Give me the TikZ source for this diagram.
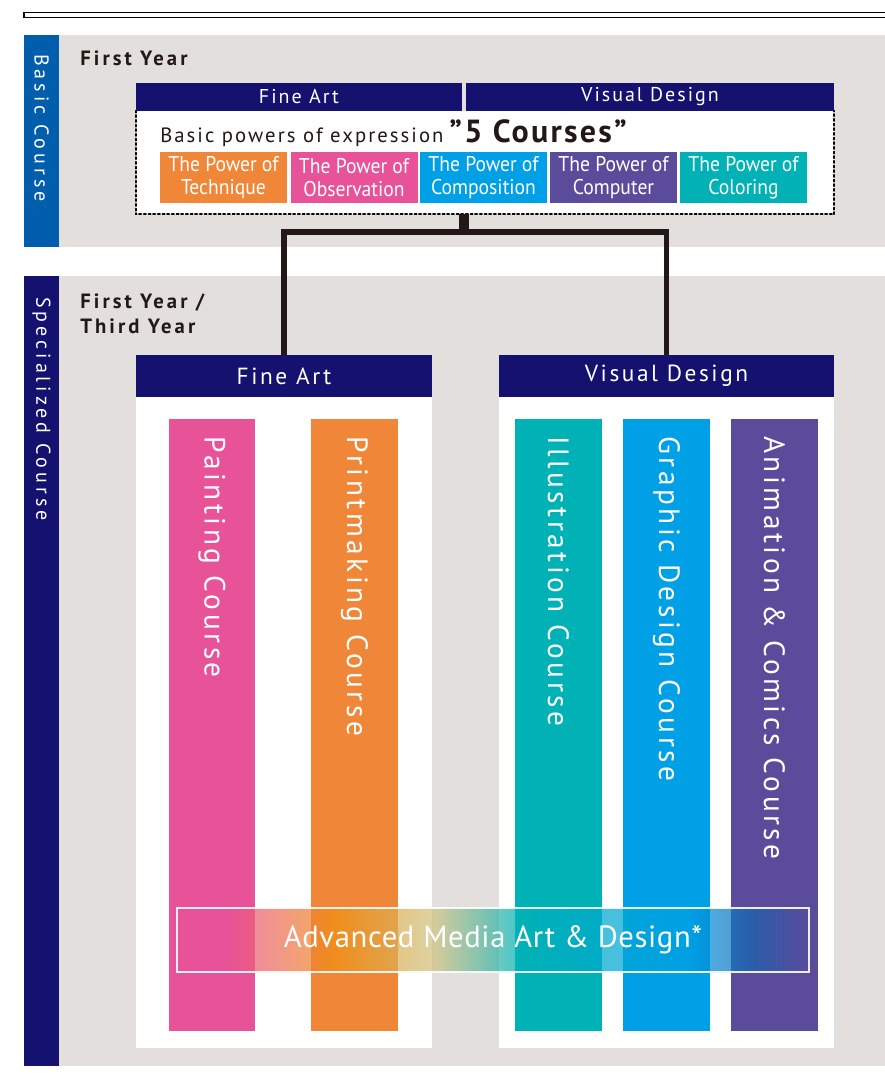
\documentclass[tikz,border=0pt]{standalone}
\usepackage{fontspec}
\setmainfont{PT Sans}
\usetikzlibrary{positioning}

\definecolor{navy}{RGB}{20,18,110}
\definecolor{basicblue}{RGB}{0,94,172}
\definecolor{bandgrey}{RGB}{226,223,220}
\definecolor{inkdark}{RGB}{35,24,21}
\definecolor{powerorange}{RGB}{240,134,55}
\definecolor{powerpink}{RGB}{232,82,152}
\definecolor{powercyan}{RGB}{0,160,230}
\definecolor{powerpurple}{RGB}{90,76,155}
\definecolor{powerteal}{RGB}{0,178,182}
\definecolor{bandorange}{RGB}{240,145,20}
\definecolor{bandkhaki}{RGB}{205,195,130}
\definecolor{bandblue}{RGB}{25,100,175}

\pgfdeclarehorizontalshading{mediaband}{100bp}{color(0bp)=(powerpink); color(25bp)=(powerpink); color(29bp)=(powerpink); color(37.5bp)=(bandorange); color(45.5bp)=(bandkhaki); color(52bp)=(powerteal); color(65.5bp)=(powercyan); color(70.5bp)=(bandblue); color(75bp)=(powerpurple); color(100bp)=(powerpurple)}

\tikzset{
  sidetext/.style={rotate=-90, anchor=west, inner sep=0pt, text=white, font=\fontsize{15}{17}\selectfont\addfontfeature{LetterSpace=20}},
  yeartext/.style={anchor=north west, inner sep=0pt, align=left, text=inkdark, font=\fontsize{15.5}{18.5}\selectfont\bfseries\addfontfeature{LetterSpace=15}},
  headbar/.style={fill=navy, inner sep=0pt, text=white, font=\fontsize{15}{18}\selectfont\addfontfeature{LetterSpace=10}},
  lowhead/.style={headbar, minimum height=31.5pt, font=\fontsize{17.5}{20}\selectfont\addfontfeature{LetterSpace=11}},
  powerbox/.style={minimum width=95.25pt, minimum height=38.25pt, inner sep=0pt, align=center, text=white, font=\fontsize{16}{17.5}\selectfont\addfontfeature{FakeStretch=0.92}},
  coursebar/.style={minimum width=65pt, minimum height=459pt, inner sep=0pt},
  coursetext/.style={rotate=-90, anchor=west, inner sep=0pt, text=white, font=\fontsize{22}{26}\selectfont\addfontfeature{LetterSpace=12}},
  panel/.style={fill=white, inner sep=0pt},
  link/.style={draw=inkdark, line width=3.9pt}
}

\begin{document}
\begin{tikzpicture}[x=0.75pt,y=0.75pt,yscale=-1,xscale=1]
	\useasboundingbox (0,0) rectangle (885,1079);
	\draw [line width=1.1pt] (24,12.5) rectangle (892,17.5);

	% basic course
	\fill [bandgrey] (24,35) rectangle (885,247);
	\fill [basicblue] (24,35) rectangle (59,247);
	\node [sidetext] (basiclabel) at (41.5,54) {Basic Course};
	\node [yeartext] (firstyear) at (80,51) {First Year};

	\node [panel, minimum width=523.5pt, minimum height=77.5pt] (basicbox) at (485,162.5) {};
	\draw [dotted, line width=1.5pt, line cap=round] (basicbox.north west) -- (basicbox.south west) -- (basicbox.south east) -- (basicbox.north east);
	\node [headbar, minimum width=244.5pt, minimum height=21pt] (faheadtop) at (299,96.5) {Fine Art};
	\node [headbar, minimum width=276pt, minimum height=21pt] (vdheadtop) at (650,96.5) {Visual Design};

	\node [anchor=base west, inner sep=0pt, text=inkdark, font=\fontsize{15.5}{18}\selectfont\addfontfeature{LetterSpace=10}] (expression) at (160,142) {Basic powers of expression};
	\node [right=4pt of expression.base east, anchor=base west, inner sep=0pt, text=inkdark, font=\fontsize{24}{28}\selectfont\bfseries\addfontfeature{LetterSpace=7}] (fivecourses) {”5 Courses”};

	\node [powerbox, fill=powerorange] (technique) at (223.5,177.5) {The Power of\\Technique};
	\node [powerbox, fill=powerpink] (observation) at (354,177.5) {The Power of\\Observation};
	\node [powerbox, fill=powercyan] (composition) at (483.5,177.5) {The Power of\\Composition};
	\node [powerbox, fill=powerpurple] (computer) at (613.5,177.5) {The Power of\\Computer};
	\node [powerbox, fill=powerteal] (coloring) at (743.5,177.5) {The Power of\\Coloring};

	% specialized course
	\fill [bandgrey] (24,276) rectangle (885,1066);
	\fill [navy] (24,276) rectangle (59,1066);
	\node [sidetext] (speciallabel) at (41.5,297) {Specialized Course};
	\node [yeartext] (thirdyear) at (80,294) {First Year /\\Third Year};

	\node [panel, minimum width=222pt, minimum height=488.25pt, anchor=north west] (fapanel) at (136,397) {};
	\node [panel, minimum width=251.25pt, minimum height=488.25pt, anchor=north west] (vdpanel) at (499,397) {};
	\node [lowhead, minimum width=222pt] (fahead) at (284,376) {Fine Art};
	\node [lowhead, minimum width=251.25pt] (vdhead) at (666.5,376) {Visual Design};

	\coordinate (split) at (464,232);
	\draw [draw=inkdark, line width=7.5pt] (basicbox.south -| split) -- (split);
	\draw [link] (fahead.north) |- (split) -| (vdhead.north);

	\node [coursebar, fill=powerpink, anchor=north] (painting) at (212,419) {};
	\node [coursebar, fill=powerorange, anchor=north] (printmaking) at (354.5,419) {};
	\node [coursebar, fill=powerteal, anchor=north] (illustration) at (558.5,419) {};
	\node [coursebar, fill=powercyan, anchor=north] (graphic) at (666.5,419) {};
	\node [coursebar, fill=powerpurple, anchor=north] (animation) at (774.5,419) {};
	\node [coursetext] at (212,436) {Painting Course};
	\node [coursetext] at (354.5,436) {Printmaking Course};
	\node [coursetext] at (558.5,436) {Illustration Course};
	\node [coursetext] at (666.5,436) {Graphic Design Course};
	\node [coursetext] at (774.5,436) {Animation \& Comics Course};

	\node [shading=mediaband, fill opacity=0.72, text opacity=1, draw=white, draw opacity=0.9, line width=0.8pt, minimum width=474pt, minimum height=48pt, inner sep=0pt, text=white, font=\fontsize{23}{26}\selectfont\addfontfeature{LetterSpace=2}] (advanced) at (493,940) {Advanced Media Art \& Design*};
\end{tikzpicture}
\end{document}
